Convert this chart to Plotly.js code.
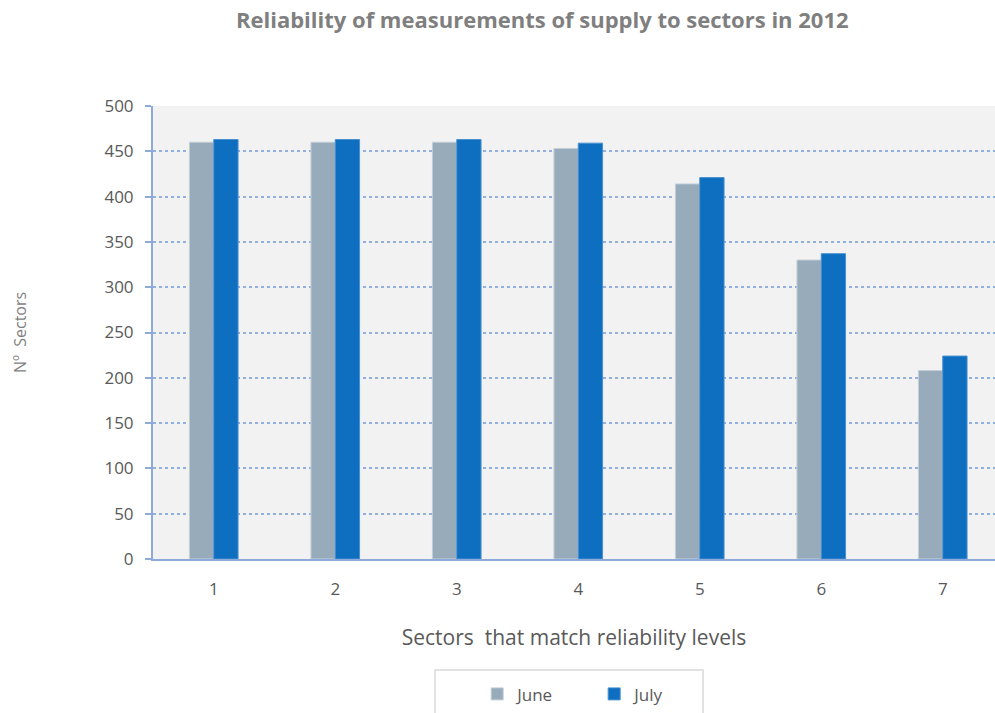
<!DOCTYPE html>
<html>
<head>
<meta charset="utf-8">
<script src="https://cdn.plot.ly/plotly-3.0.1.min.js"></script>
<style>
  html, body { margin: 0; padding: 0; background: #ffffff; overflow: hidden; }
  #chart { width: 995px; height: 713px; }
</style>
</head>
<body>
<div id="chart"></div>
<script>
// Reliability levels (categories) and number of sectors per month
var levels = ['1', '2', '3', '4', '5', '6', '7'];
var juneSectors = [460, 460, 460, 453, 414, 330, 208];
var julySectors = [463, 463, 463, 459, 421, 337, 224];

var FONT = 'Open Sans, Noto Sans, sans-serif';
var GREY = '#7f7f7f';
var TICK_GREY = '#595959';

var traces = [
  {
    type: 'bar', name: 'June', x: levels, y: juneSectors,
    marker: { color: '#98abbb', line: { color: '#c3cfd9', width: 1 } },
    hoverinfo: 'x+y+name'
  },
  {
    type: 'bar', name: 'July', x: levels, y: julySectors,
    marker: { color: '#0e6ebf', line: { color: '#4a90d0', width: 1 } },
    hoverinfo: 'x+y+name'
  }
];

var layout = {
  width: 995, height: 713,
  margin: { l: 153, r: 0, t: 106, b: 154 },
  paper_bgcolor: '#ffffff',
  plot_bgcolor: '#f2f2f2',
  font: { family: FONT, color: GREY, size: 16 },
  title: {
    text: '<b>Reliability of measurements of supply to sectors in 2012</b>',
    font: { family: FONT, size: 22, color: GREY },
    x: 0.545, xanchor: 'center', y: 0.971, yanchor: 'middle'
  },
  barmode: 'group',
  bargap: 0.6,
  bargroupgap: 0,
  xaxis: {
    type: 'category',
    range: [-0.5, 6.43],
    showline: true, linecolor: '#8eaadb', linewidth: 2,
    showgrid: false, ticks: '',
    ticklabelstandoff: 14,
    tickfont: { size: 17, color: TICK_GREY },
    title: { text: 'Sectors  that match reliability levels', font: { size: 21, color: TICK_GREY }, standoff: 31 },
    automargin: false
  },
  yaxis: {
    range: [0, 500], dtick: 50,
    showline: true, linecolor: '#8eaadb', linewidth: 2,
    ticks: 'outside', ticklen: 6, tickcolor: '#8eaadb', tickwidth: 2,
    ticklabelstandoff: 8,
    showgrid: true, gridcolor: '#93afe0', gridwidth: 1.5, griddash: 'dot',
    zeroline: false,
    tickfont: { size: 17, color: TICK_GREY },
    title: { text: 'Nº  Sectors', font: { size: 16, color: GREY }, standoff: 74 },
    automargin: false
  },
  showlegend: true,
  legend: {
    orientation: 'h',
    x: 0.385, xanchor: 'left',
    y: -0.259, yanchor: 'top',
    bgcolor: 'rgba(0,0,0,0)',
    borderwidth: 0,
    font: { size: 17, color: TICK_GREY },
    entrywidth: 72, entrywidthmode: 'pixels',
    traceorder: 'normal'
  },
  shapes: [
    {
      type: 'rect', xref: 'paper', yref: 'paper',
      x0: (435 - 153) / 842, x1: (703 - 153) / 842,
      y0: (559 - 740) / 453, y1: (559 - 670) / 453,
      line: { color: '#d9d9d9', width: 1.5 }, fillcolor: 'rgba(0,0,0,0)', layer: 'below'
    }
  ]
};

Plotly.newPlot('chart', traces, layout, { displayModeBar: false, responsive: false });
</script>
</body>
</html>
